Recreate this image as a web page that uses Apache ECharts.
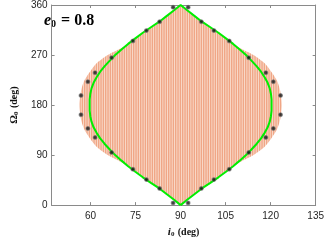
<!DOCTYPE html>
<html><head><meta charset="utf-8">
<script src="https://cdn.jsdelivr.net/npm/echarts@6/dist/echarts.min.js"></script>
<style>html,body{margin:0;padding:0;background:#fff}#c{width:327px;height:243px}</style>
</head><body><div id="c"></div>
<script>
// Tick labels
const xTicks = [60, 75, 90, 105, 120, 135];
const yTicks = [0, 90, 180, 270, 360];
// Green boundary curve (Omega in deg, i0 in deg)
const greenOmega = [0,10,20,30,40,50,60,70,80,90,100,110,120,130,140,150,160,170,180,190,200,210,220,230,240,250,260,270,280,290,300,310,320,330,340,350,360];
const greenLeftI = [90,87.7,85.3,82.9,80.1,77.4,74.9,72.5,70.3,68.2,66.4,64.7,63.2,62.0,61.0,60.3,59.9,59.7,59.7,59.7,59.9,60.3,61.0,62.0,63.2,64.7,66.4,68.2,70.3,72.5,74.9,77.4,80.1,82.9,85.3,87.7,90];
const greenRightI = [90,92.3,94.7,97.1,99.9,102.6,105.1,107.5,109.7,111.8,113.6,115.3,116.8,118.0,119.0,119.7,120.1,120.3,120.3,120.3,120.1,119.7,119.0,118.0,116.8,115.3,113.6,111.8,109.7,107.5,105.1,102.6,99.9,97.1,94.7,92.3,90];
// Outer edge of the striped (feasible) region
const regionOmega = [0,30,60,75,90,105,120,135,150,165,180,195,210,225,240,255,270,285,300,330,360];
const regionLeftI = [90,82.9,74.9,71.0,65.7,62.0,59.8,58.0,57.0,56.5,56.3,56.5,57.0,58.0,59.8,62.0,65.7,71.0,74.9,82.9,90];
const regionRightI = [90,97.1,105.1,109.0,114.3,118.0,120.2,122.0,123.0,123.5,123.7,123.5,123.0,122.0,120.2,118.0,114.3,109.0,105.1,97.1,90];
// Star markers
const starOmega = [4,30,46,64.6,94.7,121.7,138,162.7,197.3,222,238.3,265.3,295.4,314,330,356];
const starLeftI = [87.5,83.0,78.6,74.1,67.0,61.5,59.1,56.8,56.8,59.1,61.5,67.0,74.1,78.6,83.0,87.5];
const starRightI = [92.5,96.9,101.1,106.2,112.7,118.4,120.9,123.3,123.3,120.9,118.4,112.7,106.2,101.1,96.9,92.5];

// build data
const greenLoop = [];
greenOmega.forEach((o,k)=>greenLoop.push([greenLeftI[k], o]));
for (let k = greenOmega.length-1; k>=0; k--) greenLoop.push([greenRightI[k], greenOmega[k]]);
const regionPoly = [];
regionOmega.forEach((o,k)=>regionPoly.push([regionLeftI[k], o]));
for (let k = regionOmega.length-1; k>=0; k--) regionPoly.push([regionRightI[k], regionOmega[k]]);
const stars = [];
starOmega.forEach((o,k)=>{stars.push([starLeftI[k], o]); stars.push([starRightI[k], o]);});

// stripe pattern
const pc = document.createElement('canvas');
pc.width = 7; pc.height = 4;
const g = pc.getContext('2d');
g.fillStyle = '#f9dccd'; g.fillRect(0,0,7,4);
g.fillStyle = '#f0a686';
g.fillRect(0,0,1.4,4); g.fillRect(2.33,0,1.4,4); g.fillRect(4.67,0,1.4,4);
const pattern = {image: pc, repeat: 'repeat'};

const axisCol = '#8a8a8a';
const lab = {color:'#262626', fontSize:10, fontFamily:'Liberation Sans, Arial, sans-serif'};
const nameRich = {
  i:{fontFamily:'Liberation Serif', fontStyle:'italic', fontWeight:'bold', fontSize:11, color:'#111'},
  o:{fontFamily:'Liberation Serif', fontWeight:'bold', fontSize:11, color:'#111'},
  s:{fontFamily:'Liberation Serif', fontWeight:'bold', fontSize:7, color:'#111', verticalAlign:'bottom', padding:[4,0,0,0]},
  b:{fontFamily:'Liberation Serif', fontWeight:'bold', fontSize:10, color:'#111'}
};

const chart = echarts.init(document.getElementById('c'), null, {renderer:'canvas'});
chart.setOption({
  animation:false,
  grid:{left:36, right:9, top:4, bottom:31, containLabel:false},
  xAxis:[{
    type:'value', min:47, max:135, position:'bottom',
    axisLine:{show:true, onZero:false, lineStyle:{color:axisCol, width:1}},
    axisTick:{show:true, inside:true, length:3, customValues:xTicks, lineStyle:{color:axisCol}},
    axisLabel:{show:true, customValues:xTicks, margin:6, ...lab},
    splitLine:{show:false},
    name:'{i|i}{s|0} {b|(deg)}', nameLocation:'middle', nameGap:20,
    nameTextStyle:{rich:nameRich}
  },{
    type:'value', min:47, max:135, position:'top',
    axisLine:{show:true, onZero:false, lineStyle:{color:axisCol, width:1}},
    axisTick:{show:true, inside:true, length:3, customValues:xTicks, lineStyle:{color:axisCol}},
    axisLabel:{show:false}, splitLine:{show:false}
  }],
  yAxis:[{
    type:'value', min:0, max:360, interval:90, position:'left',
    axisLine:{show:true, onZero:false, lineStyle:{color:axisCol, width:1}},
    axisTick:{show:true, inside:true, length:3, lineStyle:{color:axisCol}},
    axisLabel:{show:true, margin:4, ...lab},
    splitLine:{show:false},
    name:'{o|Ω}{s|0} {b|(deg)}', nameLocation:'middle', nameGap:23,
    nameTextStyle:{rich:nameRich}
  },{
    type:'value', min:0, max:360, interval:90, position:'right',
    axisLine:{show:true, onZero:false, lineStyle:{color:axisCol, width:1}},
    axisTick:{show:true, inside:true, length:3, lineStyle:{color:axisCol}},
    axisLabel:{show:false}, splitLine:{show:false}
  }],
  graphic:[{
    type:'text', left:44, top:13,
    style:{
      text:'{e|e}{s|0}{n| = 0.8}',
      rich:{
        e:{fontFamily:'Liberation Serif', fontStyle:'italic', fontWeight:'bold', fontSize:16, fill:'#000'},
        s:{fontFamily:'Liberation Serif', fontWeight:'bold', fontSize:10, fill:'#000', verticalAlign:'bottom', padding:[6,1,0,0]},
        n:{fontFamily:'Liberation Serif', fontWeight:'bold', fontSize:16, fill:'#000'}
      }
    }
  }],
  series:[{
    type:'custom', xAxisIndex:0, yAxisIndex:0, silent:true,
    data:[[90,180]],
    renderItem:function(params, api){
      const pts = regionPoly.map(p=>api.coord(p));
      return {type:'polygon', shape:{points:pts, smooth:0.25}, style:{fill:pattern, stroke:null}};
    },
    z:1
  },{
    type:'line', xAxisIndex:0, yAxisIndex:0, data:greenLoop, showSymbol:false, symbol:'none',
    lineStyle:{color:'#00ee00', width:2}, z:3
  },{
    type:'scatter', xAxisIndex:0, yAxisIndex:0, data:stars, symbol:'circle', symbolSize:3.8,
    itemStyle:{color:'#111', borderColor:'rgba(110,110,110,0.7)', borderWidth:1.2}, z:4
  }]
});
</script></body></html>
